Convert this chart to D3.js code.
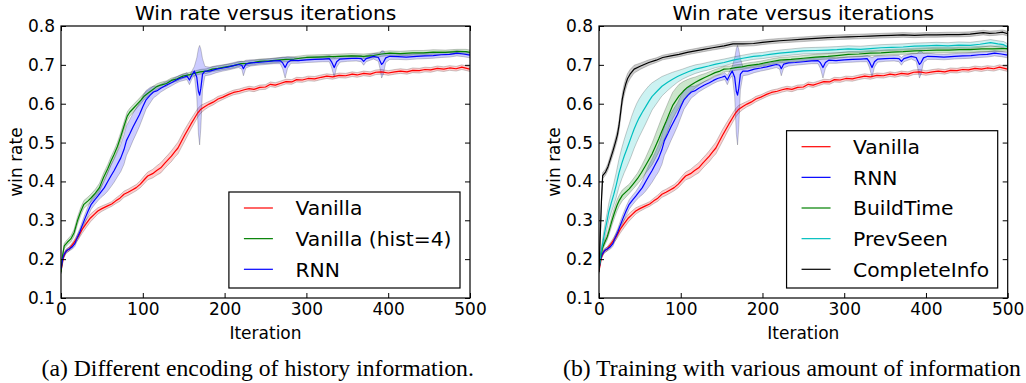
<!DOCTYPE html>
<html><head><meta charset="utf-8">
<script src="https://cdn.jsdelivr.net/npm/d3@7"></script>
<style>body{margin:0;background:#fff}svg{display:block}</style>
</head><body>
<svg id="c" width="1026" height="383"></svg>
<script>
// [iteration, mean win rate, half band width]
const vanilla = [[0,0.17,0.004],[3,0.205,0.005],[6,0.22,0.005],[10,0.226,0.005],[16,0.243,0.006],[21,0.258,0.008],[26,0.277,0.01],[31,0.292,0.01],[36,0.306,0.01],[41,0.316,0.009],[45,0.324,0.008],[50,0.33,0.007],[57,0.337,0.006],[62,0.342,0.006],[67,0.35,0.007],[72,0.357,0.008],[77,0.367,0.008],[82,0.372,0.008],[87,0.378,0.008],[92,0.384,0.008],[97,0.393,0.009],[102,0.405,0.01],[106,0.414,0.01],[112,0.42,0.011],[117,0.428,0.012],[122,0.435,0.013],[127,0.447,0.013],[131,0.456,0.013],[135,0.465,0.014],[139,0.476,0.014],[143,0.486,0.015],[147,0.502,0.015],[151,0.518,0.015],[155,0.533,0.014],[159,0.548,0.013],[163,0.562,0.012],[167,0.576,0.011],[171,0.586,0.01],[176,0.593,0.008],[181,0.599,0.007],[186,0.604,0.007],[192,0.612,0.007],[198,0.617,0.006],[205,0.624,0.006],[211,0.629,0.006],[218,0.632,0.006],[224,0.636,0.006],[230,0.639,0.006],[236,0.637,0.006],[243,0.642,0.006],[250,0.643,0.006],[256,0.65,0.006],[262,0.648,0.006],[268,0.652,0.006],[275,0.657,0.006],[282,0.656,0.006],[288,0.662,0.006],[295,0.661,0.006],[302,0.665,0.006],[310,0.664,0.006],[318,0.668,0.006],[325,0.671,0.006],[332,0.669,0.006],[340,0.673,0.006],[348,0.672,0.006],[356,0.676,0.006],[362,0.674,0.006],[370,0.678,0.006],[378,0.676,0.006],[385,0.681,0.006],[392,0.682,0.006],[400,0.679,0.006],[408,0.682,0.006],[415,0.684,0.006],[423,0.682,0.006],[430,0.686,0.006],[438,0.685,0.006],[445,0.688,0.006],[452,0.687,0.006],[460,0.691,0.006],[468,0.689,0.006],[475,0.692,0.006],[483,0.69,0.006],[490,0.694,0.006],[496,0.691,0.006],[500,0.689,0.006]];

const vanillaHist4 = [[0,0.166,0.004],[2,0.21,0.006],[4,0.234,0.007],[8,0.244,0.007],[12,0.252,0.008],[16,0.268,0.009],[20,0.298,0.01],[24,0.322,0.01],[28,0.341,0.01],[33,0.35,0.01],[37,0.358,0.01],[42,0.37,0.01],[47,0.384,0.011],[52,0.41,0.011],[57,0.432,0.011],[61,0.452,0.011],[65,0.47,0.011],[69,0.49,0.011],[73,0.515,0.011],[77,0.542,0.011],[81,0.568,0.011],[84,0.578,0.01],[88,0.587,0.01],[94,0.601,0.009],[98,0.61,0.009],[102,0.62,0.008],[107,0.628,0.008],[112,0.636,0.008],[117,0.644,0.007],[122,0.648,0.007],[129,0.652,0.007],[135,0.66,0.006],[142,0.664,0.006],[149,0.671,0.006],[156,0.674,0.006],[163,0.678,0.006],[170,0.682,0.006],[178,0.684,0.006],[185,0.689,0.006],[192,0.691,0.006],[200,0.694,0.006],[211,0.698,0.006],[220,0.703,0.006],[228,0.704,0.006],[235,0.706,0.006],[243,0.709,0.006],[255,0.71,0.006],[265,0.712,0.006],[275,0.714,0.006],[285,0.715,0.006],[300,0.719,0.006],[315,0.72,0.006],[330,0.721,0.006],[341,0.722,0.006],[355,0.723,0.006],[370,0.722,0.006],[382,0.724,0.006],[392,0.728,0.006],[402,0.73,0.006],[415,0.729,0.006],[430,0.731,0.006],[443,0.731,0.006],[455,0.733,0.006],[470,0.732,0.006],[484,0.734,0.006],[495,0.734,0.006],[500,0.732,0.006]];

const rnn = [[0,0.175,0.004],[2,0.2,0.004],[4,0.213,0.005],[7,0.222,0.005],[10,0.226,0.005],[14,0.232,0.006],[17,0.24,0.007],[20,0.256,0.008],[23,0.27,0.009],[26,0.287,0.01],[29,0.303,0.011],[33,0.323,0.012],[37,0.341,0.012],[41,0.352,0.012],[45,0.362,0.012],[49,0.373,0.014],[53,0.384,0.018],[57,0.399,0.024],[61,0.414,0.028],[65,0.428,0.03],[69,0.444,0.032],[73,0.46,0.035],[77,0.482,0.038],[80,0.505,0.038],[84,0.522,0.037],[88,0.54,0.035],[92,0.556,0.033],[96,0.572,0.03],[100,0.592,0.028],[104,0.61,0.024],[109,0.622,0.02],[113,0.63,0.015],[117,0.633,0.012],[122,0.64,0.01],[129,0.648,0.009],[135,0.654,0.008],[140,0.66,0.008],[145,0.665,0.008],[150,0.668,0.008],[154,0.671,0.009],[157,0.661,0.012],[160,0.674,0.01],[163,0.684,0.012],[166,0.668,0.05],[168,0.632,0.11],[169.5,0.622,0.128],[171,0.64,0.1],[173,0.676,0.04],[176,0.684,0.012],[182,0.684,0.01],[190,0.689,0.009],[198,0.692,0.008],[205,0.695,0.008],[211,0.698,0.008],[217,0.701,0.008],[221,0.699,0.01],[223,0.69,0.018],[226,0.702,0.01],[232,0.705,0.008],[240,0.706,0.007],[250,0.708,0.007],[260,0.71,0.007],[268,0.711,0.008],[271,0.705,0.015],[274,0.693,0.027],[277,0.706,0.015],[281,0.712,0.008],[290,0.711,0.007],[300,0.713,0.007],[310,0.714,0.007],[320,0.715,0.007],[328,0.716,0.008],[331,0.707,0.015],[334,0.693,0.025],[337,0.708,0.014],[341,0.715,0.008],[350,0.716,0.007],[361,0.717,0.007],[367,0.716,0.008],[370,0.709,0.01],[373,0.716,0.008],[382,0.722,0.007],[388,0.719,0.01],[390,0.71,0.02],[392,0.701,0.035],[394,0.706,0.03],[397,0.718,0.012],[402,0.722,0.008],[412,0.721,0.007],[422,0.72,0.007],[435,0.722,0.007],[445,0.723,0.007],[455,0.724,0.007],[465,0.726,0.007],[475,0.727,0.007],[484,0.73,0.007],[492,0.728,0.007],[500,0.725,0.007]];

const buildTime = [[0,0.176,0.004],[2,0.205,0.005],[4,0.227,0.006],[7,0.243,0.007],[10,0.257,0.008],[13,0.278,0.01],[16,0.3,0.012],[19,0.32,0.013],[22,0.338,0.014],[25,0.352,0.014],[28.5,0.364,0.014],[33,0.373,0.013],[37,0.381,0.012],[42,0.394,0.013],[47,0.407,0.014],[52,0.423,0.017],[57,0.441,0.02],[61,0.456,0.024],[65,0.471,0.028],[69,0.49,0.031],[73,0.509,0.034],[77,0.53,0.035],[81.6,0.552,0.036],[86,0.575,0.035],[90,0.595,0.034],[94,0.608,0.032],[98,0.62,0.03],[103,0.632,0.025],[108,0.642,0.02],[113,0.649,0.017],[118,0.655,0.014],[124,0.662,0.012],[130,0.668,0.01],[136,0.674,0.009],[142,0.68,0.008],[148,0.684,0.008],[153,0.689,0.007],[160,0.69,0.007],[167,0.693,0.007],[175,0.695,0.007],[182,0.698,0.007],[189,0.7,0.007],[196,0.702,0.007],[203,0.705,0.007],[210,0.708,0.007],[221,0.712,0.007],[235,0.714,0.007],[250,0.717,0.007],[265,0.72,0.007],[280,0.722,0.007],[291,0.724,0.007],[305,0.727,0.007],[318,0.728,0.007],[332,0.73,0.007],[345,0.731,0.007],[358,0.733,0.007],[372,0.734,0.007],[386,0.736,0.007],[400,0.737,0.007],[413,0.738,0.007],[428,0.738,0.007],[441,0.739,0.007],[454,0.739,0.007],[468,0.741,0.007],[481,0.741,0.007],[494,0.742,0.007],[500,0.742,0.007]];

const prevSeen = [[0,0.176,0.004],[2,0.21,0.008],[4,0.235,0.012],[6,0.258,0.015],[8,0.28,0.018],[10,0.3,0.02],[12,0.322,0.022],[15,0.345,0.025],[18,0.366,0.028],[21,0.39,0.032],[24.5,0.422,0.036],[28,0.447,0.04],[31,0.466,0.043],[34,0.483,0.046],[37,0.5,0.048],[40,0.518,0.05],[43,0.535,0.05],[46,0.55,0.05],[49,0.563,0.049],[53,0.578,0.047],[57,0.592,0.044],[61,0.606,0.04],[65,0.619,0.035],[71,0.632,0.03],[77,0.645,0.025],[84,0.655,0.021],[90,0.663,0.018],[96,0.67,0.015],[102,0.676,0.013],[110,0.683,0.012],[118,0.689,0.011],[126,0.693,0.01],[134,0.697,0.01],[143,0.702,0.009],[153,0.706,0.009],[164,0.712,0.008],[176,0.717,0.008],[189,0.722,0.008],[200,0.724,0.008],[209,0.727,0.008],[221,0.73,0.008],[235,0.733,0.008],[250,0.736,0.008],[265,0.737,0.008],[280,0.738,0.008],[291,0.739,0.008],[305,0.741,0.008],[320,0.74,0.008],[332,0.742,0.008],[345,0.744,0.008],[358,0.745,0.008],[372,0.746,0.008],[386,0.748,0.008],[400,0.749,0.008],[413,0.75,0.008],[427,0.749,0.008],[440,0.751,0.008],[454,0.75,0.008],[466,0.753,0.008],[479,0.757,0.008],[488,0.754,0.008],[495,0.752,0.008],[500,0.746,0.008]];

const completeInfo = [[0,0.167,0.004],[1,0.23,0.006],[2,0.287,0.008],[3,0.35,0.008],[4.5,0.415,0.008],[8,0.424,0.008],[11,0.438,0.009],[14,0.458,0.01],[17,0.478,0.011],[20,0.5,0.012],[22.5,0.52,0.013],[24.5,0.544,0.014],[26.5,0.578,0.015],[28.5,0.612,0.015],[30.5,0.633,0.015],[32.6,0.65,0.014],[35,0.665,0.013],[38,0.676,0.012],[43,0.689,0.01],[51,0.697,0.008],[61,0.706,0.007],[70,0.712,0.006],[78,0.719,0.006],[88,0.723,0.006],[98,0.727,0.006],[108,0.732,0.006],[118,0.736,0.006],[128,0.74,0.006],[139,0.744,0.006],[153,0.749,0.006],[164,0.754,0.006],[176,0.754,0.006],[189,0.755,0.006],[200,0.758,0.006],[209,0.76,0.006],[221,0.762,0.006],[235,0.764,0.006],[250,0.766,0.006],[265,0.768,0.006],[280,0.77,0.006],[291,0.771,0.006],[305,0.772,0.006],[318,0.773,0.006],[332,0.774,0.006],[345,0.775,0.006],[358,0.776,0.006],[372,0.777,0.006],[386,0.776,0.006],[400,0.777,0.006],[413,0.777,0.006],[427,0.778,0.006],[440,0.778,0.006],[454,0.779,0.006],[462,0.781,0.006],[470,0.783,0.006],[478,0.781,0.006],[486,0.782,0.006],[494,0.784,0.006],[500,0.78,0.006]];

const xTicks = [0, 100, 200, 300, 400, 500];
const yTicks = [0.1, 0.2, 0.3, 0.4, 0.5, 0.6, 0.7, 0.8];
const titleText = "Win rate versus iterations";
const xLabel = "Iteration";
const yLabel = "win rate";
const seriesA = [
  {name: "Vanilla", data: vanilla, color: "#ff0000"},
  {name: "Vanilla (hist=4)", data: vanillaHist4, color: "#008000"},
  {name: "RNN", data: rnn, color: "#0000ff"}
];
const seriesB = [
  {name: "Vanilla", data: vanilla, color: "#ff0000"},
  {name: "RNN", data: rnn, color: "#0000ff"},
  {name: "BuildTime", data: buildTime, color: "#008000"},
  {name: "PrevSeen", data: prevSeen, color: "#00bfbf"},
  {name: "CompleteInfo", data: completeInfo, color: "#000000"}
];
const captionA = "(a) Different encoding of history information.";
const captionB = "(b) Training with various amount of information";

const svg = d3.select("#c");
const FONT = "DejaVu Sans";

function panel(id, left, right, series, caption, capX) {
  const top = 26, bottom = 298;
  const x = d3.scaleLinear().domain([0, 500]).range([left, right]);
  const y = d3.scaleLinear().domain([0.1, 0.8]).range([bottom, top]);
  const g = svg.append("g");
  g.append("clipPath").attr("id", "clip" + id).append("rect")
    .attr("x", left).attr("y", top).attr("width", right - left).attr("height", bottom - top);
  const area = d3.area().x(d => x(d[0])).y0(d => y(d[1] - d[2])).y1(d => y(d[1] + d[2]));
  const line = d3.line().x(d => x(d[0])).y(d => y(d[1]));
  const plot = g.append("g").attr("clip-path", `url(#clip${id})`);
  series.forEach(s => {
    plot.append("path").attr("d", area(s.data))
      .attr("fill", s.color).attr("fill-opacity", 0.2)
      .attr("stroke", "#000").attr("stroke-opacity", 0.2).attr("stroke-width", 1);
  });
  series.forEach(s => {
    plot.append("path").attr("d", line(s.data)).attr("fill", "none")
      .attr("stroke", s.color).attr("stroke-width", 1.2).attr("stroke-linejoin", "round");
  });
  const styleAxis = (sel) => {
    sel.select(".domain").remove();
    sel.selectAll(".tick line").attr("stroke", "#000").attr("stroke-width", 1);
    sel.selectAll("text").attr("font-family", FONT).attr("font-size", 17).attr("fill", "#000");
  };
  g.append("g").attr("transform", `translate(0,${bottom})`)
    .call(d3.axisBottom(x).tickValues(xTicks).tickSizeInner(-5).tickSizeOuter(0).tickPadding(5))
    .call(styleAxis);
  g.append("g").attr("transform", `translate(0,${top})`)
    .call(d3.axisTop(x).tickValues(xTicks).tickSizeInner(-5).tickSizeOuter(0).tickFormat(""))
    .call(styleAxis);
  g.append("g").attr("transform", `translate(${left},0)`)
    .call(d3.axisLeft(y).tickValues(yTicks).tickSizeInner(-5).tickSizeOuter(0).tickPadding(6).tickFormat(d3.format(".1f")))
    .call(styleAxis);
  g.append("g").attr("transform", `translate(${right},0)`)
    .call(d3.axisRight(y).tickValues(yTicks).tickSizeInner(-5).tickSizeOuter(0).tickFormat(""))
    .call(styleAxis);
  g.append("rect").attr("x", left).attr("y", top).attr("width", right - left).attr("height", bottom - top)
    .attr("fill", "none").attr("stroke", "#000").attr("stroke-width", 1.2);
  g.append("text").attr("x", (left + right) / 2).attr("y", 20).attr("text-anchor", "middle")
    .attr("font-family", FONT).attr("font-size", 20.3).text(titleText);
  g.append("text").attr("x", (left + right) / 2).attr("y", 339).attr("text-anchor", "middle")
    .attr("font-family", FONT).attr("font-size", 17).text(xLabel);
  g.append("text").attr("transform", `translate(${left - 39.5},${(top + bottom) / 2}) rotate(-90)`)
    .attr("text-anchor", "middle").attr("font-family", FONT).attr("font-size", 17).text(yLabel);
  const n = series.length, gap = 30.65;
  const lg = g.append("g");
  const box = lg.append("rect").attr("fill", "#fff").attr("stroke", "#000").attr("stroke-width", 1.2);
  const texts = [];
  let maxW = 0;
  series.forEach((s, i) => {
    const t = lg.append("text").attr("font-family", FONT).attr("font-size", 20.3).attr("dy", "0.36em").text(s.name);
    maxW = Math.max(maxW, t.node().getComputedTextLength());
    texts.push(t);
  });
  const boxW = 66 + maxW + 9;
  const boxH = 16 + (n - 1) * gap + 18.7;
  const bx = right - 10 - boxW, by = bottom - 10 - boxH;
  box.attr("x", bx).attr("y", by).attr("width", boxW).attr("height", boxH);
  series.forEach((s, i) => {
    const ly = by + 16 + i * gap;
    lg.append("line").attr("x1", bx + 15).attr("x2", bx + 44).attr("y1", ly).attr("y2", ly)
      .attr("stroke", s.color).attr("stroke-width", 1.2);
    texts[i].attr("x", bx + 66.5).attr("y", ly);
  });
  svg.append("text").attr("x", capX).attr("y", 376).attr("font-family", "Liberation Serif")
    .attr("font-size", 23.7).text(caption);
}

panel("a", 61, 470, seriesA, captionA, 41.5);
panel("b", 599, 1007.7, seriesB, captionB, 563);
</script>
</body></html>
